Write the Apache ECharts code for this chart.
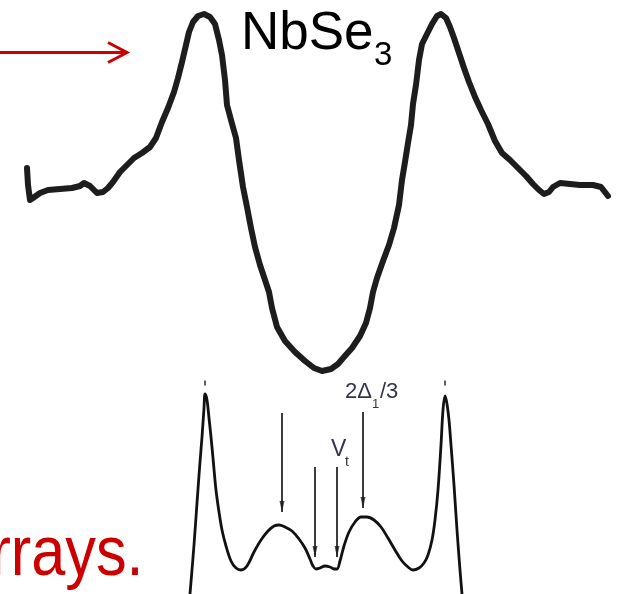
<!DOCTYPE html>
<html>
<head>
<meta charset="utf-8">
<script src="https://cdn.jsdelivr.net/npm/echarts@6/dist/echarts.min.js"></script>
<style>
  html, body { margin: 0; padding: 0; background: #fff; }
  #chart { width: 617px; height: 594px; }
</style>
</head>
<body>
<div id="chart"></div>
<script>
// Upper spectrum (NbSe3 tunnelling conductance): [bias, dI/dV (screen-down units)]
const upperSpectrum = [
  [27,168],[28,185],[30,200],[33,198],[40,193],[48,190],[60,189],[72,188],[80,186],[84,183],
  [90,186],[97,193],[103,192],[108,188],[113,182],[120,172],[127,165],[134,158],[142,153],[150,147],
  [156,138],[162,122],[168,108],[174,92],[178,78],[182,62],[186,45],[189,32],[193,22],[198,16],
  [204,14],[210,17],[215,24],[219,40],[222,55],[225,80],[227,105],[231,120],[236,138],[239,160],
  [243,187],[247,207],[251,228],[255,247],[260,265],[265,280],[269,292],[272,308],[277,327],[285,341],
  [295,352],[305,361],[314,368],[322,371],[331,369],[338,364],[344,357],[352,348],[360,336],[366,323],
  [370,308],[373,292],[377,278],[383,261],[389,245],[394,228],[399,205],[402,180],[405,162],[408,143],
  [411,125],[413,104],[416,85],[419,60],[422,44],[427,34],[432,24],[437,16],[441,14],[446,18],
  [450,27],[454,38],[459,53],[464,68],[469,82],[475,97],[481,110],[488,124],[495,141],[502,153],
  [510,160],[518,168],[526,176],[533,184],[539,190],[544,194],[549,192],[553,187],[560,183],[570,184],
  [580,185],[593,185],[601,187],[608,196]
];

// Lower spectrum (model conductance)
const lowerSpectrum = [
  [190,594],[194,545],[197,503],[200,462],[202,437],[204,408],[205,394],[207,400],[209,418],[211,437],
  [213,458],[216,490],[219,512],[222,530],[226,546],[231,561],[236,568],[241,570],[247,566],[254,552],
  [261,540],[268,531],[274,526],[279,525],[285,527],[292,531],[299,539],[305,548],[310,559],[313,566],
  [316,569],[320,568],[325,566],[330,567],[334,569],[337,569],[340,561],[344,546],[349,532],[355,522],
  [361,517],[367,517],[374,520],[381,527],[388,538],[395,550],[402,561],[408,567],[413,570],[419,568],
  [424,563],[428,555],[432,540],[435,520],[438,490],[441,445],[443,410],[445,396],[447,404],[449,420],
  [451,445],[454,485],[457,530],[460,570],[462,594]
];

// Small marks above the two lower peaks
const peakMarks = [[205,383],[445,383]];

// Vertical arrows on the lower spectrum: [x, start, end]
const featureArrows = [
  [282, 413, 512],
  [315, 467, 557],
  [337, 467, 557],
  [363, 412, 508]
];

// Red pointer arrow (shaft and head)
const pointerShaft = [[0,52.5],[127,52.5]];
const pointerHead = [[108,42.5],[127,52.5],[108,62.5]];

const chart = echarts.init(document.getElementById('chart'), null, { renderer: 'canvas' });

const FONT = '"Liberation Sans", Arial, Helvetica, sans-serif';
function mid(baseline, size) { return baseline - 0.3465 * size; }

const series = [
  {
    type: 'line', data: upperSpectrum, showSymbol: false, silent: true,
    lineStyle: { width: 6, color: '#1d1d1d', join: 'round', cap: 'round' }, z: 3
  },
  {
    type: 'line', data: lowerSpectrum, smooth: 0.35, showSymbol: false, silent: true,
    lineStyle: { width: 2.8, color: '#111111', join: 'round' }, z: 3
  },
  {
    type: 'scatter', data: peakMarks, symbol: 'rect', symbolSize: [2, 5], silent: true,
    itemStyle: { color: '#333' }
  },
  {
    type: 'line', data: pointerShaft, showSymbol: false, silent: true,
    lineStyle: { width: 3, color: '#cc0000' }
  },
  {
    type: 'line', data: pointerHead, showSymbol: false, silent: true,
    lineStyle: { width: 3, color: '#cc0000', join: 'miter' }
  }
];

featureArrows.forEach(function (a) {
  series.push({
    type: 'line', data: [[a[0], a[1]], [a[0], a[2]]], showSymbol: false, silent: true,
    lineStyle: { width: 1.7, color: '#1a1a1a' }
  });
  series.push({
    type: 'scatter', data: [[a[0], a[2]]], silent: true,
    symbol: 'path://M0,0L10,0L5,22Z', symbolSize: [5, 11], symbolOffset: [0, -5.5],
    itemStyle: { color: '#1a1a1a' }
  });
});

const option = {
  animation: false,
  backgroundColor: '#ffffff',
  grid: { left: 0, right: 0, top: 0, bottom: 0 },
  xAxis: { type: 'value', min: 0, max: 617, show: false },
  yAxis: { type: 'value', min: 0, max: 594, inverse: true, show: false },
  series: series,
  graphic: [
    { type: 'text', x: 241, y: mid(53, 53), style: { text: 'NbSe', font: '53px ' + FONT, fill: '#000', verticalAlign: 'middle' } },
    { type: 'text', x: 374, y: mid(67, 33), style: { text: '3', font: '33px ' + FONT, fill: '#000', verticalAlign: 'middle' } },
    { type: 'text', x: -9.6, y: mid(580, 70), scaleX: 0.875, style: { text: 'rrays.', font: '70px ' + FONT, fill: '#cc0000', verticalAlign: 'middle' } },
    { type: 'text', x: 345, y: mid(400, 22), style: { text: '2Δ', font: '22px ' + FONT, fill: '#33334a', verticalAlign: 'middle' } },
    { type: 'text', x: 372, y: mid(409, 13), style: { text: '1', font: '13px ' + FONT, fill: '#33334a', verticalAlign: 'middle' } },
    { type: 'text', x: 380, y: mid(400, 22), style: { text: '/3', font: '22px ' + FONT, fill: '#33334a', verticalAlign: 'middle' } },
    { type: 'text', x: 331, y: mid(458, 23), style: { text: 'V', font: '23px ' + FONT, fill: '#33334a', verticalAlign: 'middle' } },
    { type: 'text', x: 345, y: mid(467, 14), style: { text: 't', font: '14px ' + FONT, fill: '#33334a', verticalAlign: 'middle' } }
  ]
};

chart.setOption(option);
</script>
</body>
</html>
